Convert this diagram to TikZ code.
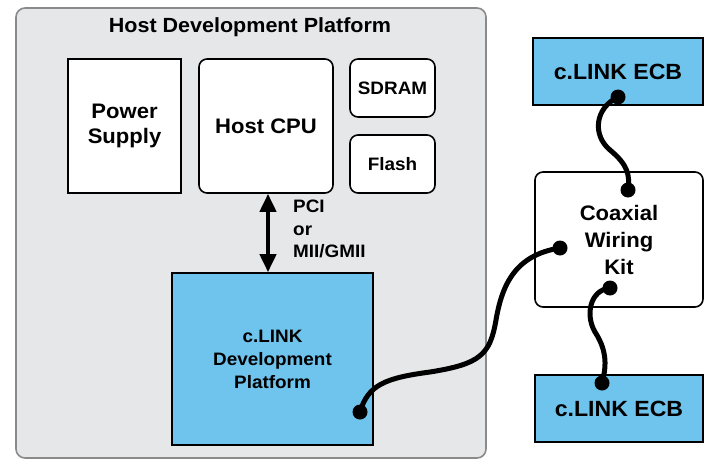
\documentclass[tikz,border=0pt]{standalone}
\usepackage{fontspec}
\setmainfont{Liberation Sans}[FakeStretch=1.05]
\usetikzlibrary{arrows.meta}
\definecolor{cblue}{HTML}{6EC4ED}
\definecolor{hgray}{HTML}{E6E7E8}
\definecolor{hborder}{HTML}{8A8A8A}
\tikzset{
  box/.style={draw=black, line width=1.6pt, fill=white, align=center, inner sep=0pt, font=\bfseries},
  rbox/.style={box, rounded corners=8pt},
  bluebox/.style={box, fill=cblue},
  dot/.style={circle, fill=black, inner sep=0pt, minimum size=15pt},
  cable/.style={line width=5pt, line cap=round},
}
\begin{document}
\begin{tikzpicture}[x=1pt,y=-1pt]
\useasboundingbox (0,0) rectangle (706,460);
% outer host platform
\node[draw=hborder, fill=hgray, line width=1.6pt, rounded corners=9pt, minimum width=470pt, minimum height=450pt, inner sep=0pt] (host) at (251,233) {};
\node[font=\bfseries\fontsize{20.5}{24}\selectfont] (title) at (250,27) {Host Development Platform};
% inner boxes
\node[box, minimum width=113pt, minimum height=134pt, font=\bfseries\fontsize{21}{25}\selectfont] (psu) at (124.5,126) {Power\\Supply};
\node[rbox, minimum width=134pt, minimum height=134pt, font=\bfseries\fontsize{21}{25}\selectfont] (cpu) at (266,126) {Host CPU};
\node[rbox, minimum width=85pt, minimum height=58pt, font=\bfseries\fontsize{18}{21}\selectfont] (sdram) at (392.5,88) {SDRAM};
\node[rbox, minimum width=85pt, minimum height=58pt, font=\bfseries\fontsize{18}{21}\selectfont] (flash) at (392.5,164) {Flash};
\node[bluebox, minimum width=201pt, minimum height=172pt, font=\bfseries\fontsize{18}{23}\selectfont] (dev) at (272.5,359) {c.LINK\\Development\\Platform};
% arrow
\draw[line width=4pt, {Triangle[width=16pt,length=18pt]}-{Triangle[width=16pt,length=18pt]}] ([xshift=2pt]cpu.south) -- ([xshift=-4.5pt]dev.north);
\node[anchor=north west, align=left, font=\bfseries\fontsize{18}{22.5}\selectfont, inner sep=0pt] (pci) at (293,200) {PCI\\or\\MII/GMII};
% right side
\node[bluebox, minimum width=170pt, minimum height=67pt, font=\bfseries\fontsize{22}{25}\selectfont] (ecb1) at (618,71.5) {c.LINK ECB};
\node[rbox, minimum width=168pt, minimum height=135pt, font=\bfseries\fontsize{21}{27}\selectfont] (coax) at (619,239.5) {Coaxial\\Wiring\\Kit};
\node[bluebox, minimum width=168pt, minimum height=67pt, font=\bfseries\fontsize{22}{25}\selectfont] (ecb2) at (619,408.5) {c.LINK ECB};
% dots
\node[dot] (d1) at (618,97) {};
\node[dot] (d2) at (628,190) {};
\node[dot] (d3) at (560,248) {};
\node[dot] (d4) at (610,288) {};
\node[dot] (d5) at (602,383) {};
\node[dot] (d6) at (360,412) {};
% cables
\draw[cable] (d1.center) .. controls (595,108) and (592,135) .. (610,150) .. controls (628,165) and (630,175) .. (d2.center);
\draw[cable] (d4.center) .. controls (590,290) and (585,315) .. (595,332) .. controls (608,352) and (606,368) .. (d5.center);
\draw[cable] (d6.center) .. controls (368,385) and (385,378) .. (430,372) .. controls (480,364) and (490,355) .. (496,320) .. controls (502,285) and (515,255) .. (d3.center);
\end{tikzpicture}
\end{document}
